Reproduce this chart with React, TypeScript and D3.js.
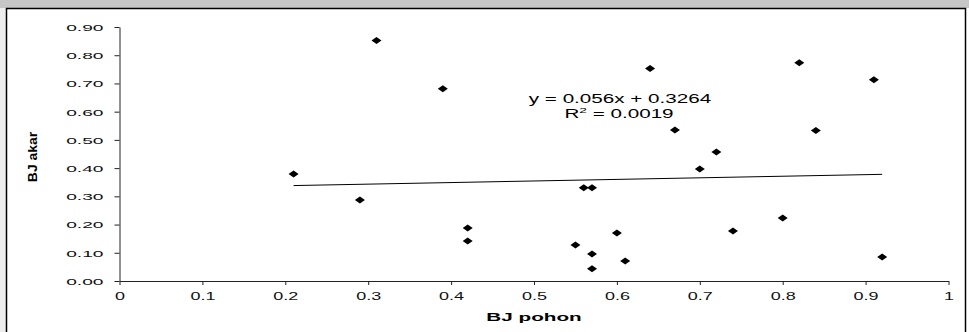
import { useEffect, useRef } from 'react';
import * as d3 from 'd3';

// BJ pohon (x) vs BJ akar (y)
const bjPohon = [0.21, 0.29, 0.31, 0.39, 0.42, 0.42, 0.55, 0.56, 0.57, 0.57, 0.57, 0.60, 0.61, 0.64, 0.67, 0.70, 0.72, 0.74, 0.80, 0.82, 0.84, 0.91, 0.92];
const bjAkar = [0.379, 0.287, 0.852, 0.681, 0.188, 0.142, 0.128, 0.330, 0.330, 0.096, 0.043, 0.170, 0.071, 0.753, 0.535, 0.397, 0.457, 0.177, 0.223, 0.773, 0.533, 0.713, 0.085];

const xTicks = [0, 0.1, 0.2, 0.3, 0.4, 0.5, 0.6, 0.7, 0.8, 0.9, 1];
const yTicks = [0, 0.1, 0.2, 0.3, 0.4, 0.5, 0.6, 0.7, 0.8, 0.9];

// linear trendline as printed on the chart
const slope = 0.056;
const intercept = 0.3264;
const rSquared = "0.0019";

const W = 969;
const H = 332;
const FONT = "'Liberation Sans', Arial, sans-serif";

export default function App() {
    const svgRef = useRef<SVGSVGElement>(null);

    useEffect(() => {
        if (!svgRef.current) return;
        const svg = d3.select(svgRef.current);
        svg.selectAll("*").remove();

        // background bits (scan edges)
        svg.append("rect").attr("x", 0).attr("y", 0).attr("width", W).attr("height", H).attr("fill", "#ffffff");
        svg.append("rect").attr("x", 0).attr("y", 0).attr("width", W).attr("height", 8).attr("fill", "#c6c6c6");
        svg.append("rect").attr("x", 0).attr("y", 8).attr("width", 6).attr("height", H - 8).attr("fill", "#ededed");
        svg.append("rect")
            .attr("x", 6.5).attr("y", 8.5)
            .attr("width", 959).attr("height", H)
            .attr("fill", "none")
            .attr("stroke", "#000")
            .attr("stroke-width", 1.5);

        const xScale = d3.scaleLinear().domain([0, 1]).range([119.5, 948.5]);
        const yScale = d3.scaleLinear().domain([0, 0.9]).range([281, 27]);

        // eixo Y
        const yAxis = svg.append("g")
            .attr("transform", `translate(${xScale(0)},0)`)
            .call(d3.axisLeft(yScale)
                .tickValues(yTicks)
                .tickSizeInner(5)
                .tickSizeOuter(0)
                .tickFormat(d => (d as number).toFixed(2)));
        yAxis.select(".domain").attr("stroke", "#222");
        yAxis.selectAll(".tick line").attr("stroke", "#222");
        yAxis.selectAll(".tick text")
            .attr("x", 0)
            .attr("dy", "0.35em")
            .attr("transform", "translate(-16,0) scale(2,1)")
            .style("font-family", FONT)
            .style("font-size", "9.6px")
            .attr("fill", "#111");

        // eixo X
        const xAxis = svg.append("g")
            .attr("transform", `translate(0,${yScale(0)})`)
            .call(d3.axisBottom(xScale)
                .tickValues(xTicks)
                .tickSizeInner(4)
                .tickSizeOuter(0)
                .tickFormat(d => String(d)));
        xAxis.select(".domain").attr("stroke", "#222");
        xAxis.selectAll(".tick line").attr("stroke", "#222");
        xAxis.selectAll(".tick text")
            .attr("y", 0)
            .attr("dy", "0.71em")
            .attr("transform", "translate(0,12) scale(1.8,1)")
            .style("font-family", FONT)
            .style("font-size", "10px")
            .attr("fill", "#111");

        // trendline
        const xMin = d3.min(bjPohon) as number;
        const xMax = d3.max(bjPohon) as number;
        const trend = [xMin, xMax].map(x => [x, slope * x + intercept] as [number, number]);
        svg.append("path")
            .attr("d", d3.line<[number, number]>()
                .x(d => xScale(d[0]))
                .y(d => yScale(d[1]))(trend))
            .attr("stroke", "#000")
            .attr("stroke-width", 1)
            .attr("fill", "none");

        // pontos (losangos)
        const points = bjPohon.map((x, i) => ({ x, y: bjAkar[i] }));
        svg.append("g")
            .selectAll("path")
            .data(points)
            .enter()
            .append("path")
            .attr("d", "M0,-3.5L5,0L0,3.5L-5,0Z")
            .attr("transform", d => `translate(${xScale(d.x)},${yScale(d.y)})`)
            .attr("fill", "#000");

        // equation
        svg.append("text")
            .attr("transform", "translate(620,103) scale(1.72,1)")
            .attr("text-anchor", "middle")
            .style("font-family", FONT)
            .style("font-size", "12px")
            .attr("fill", "#000")
            .text(`y = ${slope}x + ${intercept}`);

        const r2 = svg.append("text")
            .attr("transform", "translate(619,118) scale(1.72,1)")
            .attr("text-anchor", "middle")
            .style("font-family", FONT)
            .style("font-size", "12px")
            .attr("fill", "#000");
        r2.append("tspan").text("R");
        r2.append("tspan").attr("dy", "-5").style("font-size", "8px").text("2");
        r2.append("tspan").attr("dy", "5").text(` = ${rSquared}`);

        // axis titles
        svg.append("text")
            .attr("transform", "translate(534,321) scale(1.8,1)")
            .attr("text-anchor", "middle")
            .style("font-family", FONT)
            .style("font-size", "11.5px")
            .style("font-weight", "bold")
            .attr("fill", "#000")
            .text("BJ pohon");

        svg.append("text")
            .attr("transform", "translate(37,157) rotate(-90) scale(1.16,1)")
            .attr("text-anchor", "middle")
            .style("font-family", FONT)
            .style("font-size", "12px")
            .style("font-weight", "bold")
            .attr("fill", "#000")
            .text("BJ akar");
    }, []);

    return (
        <svg
            ref={svgRef}
            width={W}
            height={H}
            style={{ position: "absolute", left: 0, top: 0, display: "block" }}
        />
    );
}
